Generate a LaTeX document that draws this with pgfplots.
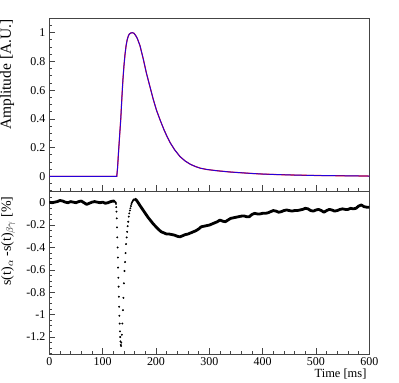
\documentclass[border=0pt]{standalone}
\usepackage{fontspec}
\setmainfont{Liberation Serif}
\usepackage{pgfplots}
\pgfplotsset{compat=1.18}

\definecolor{framegray}{HTML}{444444}

\pgfplotsset{
  rootpad/.style={
    scale only axis,
    width=320bp,
    xmin=0, xmax=600,
    axis line style={draw=framegray, line width=0.8bp},
    tick style={draw=framegray, line width=0.7bp},
    tick align=inside,
    xtick pos=bottom, ytick pos=left,
    major tick length=6bp, minor tick length=3bp,
    xtick={0,100,...,600},
    minor xtick={0,20,...,600},
    /pgf/number format/assume math mode=true,
    tick label style={font=\fontsize{12}{14}\selectfont},
    yticklabel style={inner sep=0pt, xshift=-3.8bp},
    xticklabel style={inner sep=0pt, yshift=-3.5bp},
  },
}

\begin{document}
\begin{tikzpicture}
  \useasboundingbox (0,0) rectangle (399bp,383bp);

  % upper pad: pulse shapes
  \begin{axis}[
      rootpad,
      at={(49.3bp,191.7bp)}, anchor=south west,
      height=173bp,
      ymin=-0.104, ymax=1.1,
      ytick={0,0.2,0.4,0.6,0.8,1},
      minor ytick={-0.1,-0.05,...,1.1},
      xticklabels={},
      ylabel={Amplitude [A.U.]},
      ylabel style={at={(rel axis cs:-0.1197,1.013)}, anchor=base east,
        font=\fontsize{15.5}{17}\selectfont},
    ]
    \addplot[red, line width=1.1bp] coordinates {
      (0,0) (126.5,0) (128,0.06) (130,0.18) (132,0.29) (134,0.40) (136,0.54)
      (138,0.67) (140,0.77) (142,0.85) (144,0.91) (146,0.95) (148,0.975)
      (150,0.99) (153,0.998) (156,1.0) (159,0.995) (162,0.98) (165,0.96)
      (170,0.91) (176,0.82) (182,0.72) (189,0.62) (195,0.535) (201,0.46)
      (208,0.39) (215,0.325) (221,0.275) (227,0.232) (235,0.185) (245,0.138)
      (255,0.106) (265,0.083) (275,0.067) (283,0.057) (295,0.048) (310,0.041)
      (320,0.037) (340,0.030) (360,0.025) (380,0.020) (400,0.016) (430,0.012)
      (460,0.009) (500,0.006) (550,0.004) (600,0.002)
    };
    \addplot[blue!85!red, line width=0.9bp] coordinates {
      (0,0) (126.5,0) (128,0.06) (130,0.18) (132,0.29) (134,0.40) (136,0.54)
      (138,0.67) (140,0.77) (142,0.85) (144,0.91) (146,0.95) (148,0.975)
      (150,0.99) (153,0.998) (156,1.0) (159,0.995) (162,0.98) (165,0.96)
      (170,0.91) (176,0.82) (182,0.72) (189,0.62) (195,0.535) (201,0.46)
      (208,0.39) (215,0.325) (221,0.275) (227,0.232) (235,0.185) (245,0.138)
      (255,0.106) (265,0.083) (275,0.067) (283,0.057) (295,0.048) (310,0.041)
      (320,0.037) (340,0.030) (360,0.025) (380,0.020) (400,0.016) (430,0.012)
      (460,0.009) (500,0.006) (550,0.004) (600,0.002)
    };
  \end{axis}

  % lower pad: difference in percent
  \begin{axis}[
      rootpad,
      at={(49.3bp,29bp)}, anchor=south west,
      height=162.7bp,
      ymin=-1.352, ymax=0.102,
      ytick={-1.2,-1,-0.8,-0.6,-0.4,-0.2,0},
      minor ytick={-1.35,-1.3,...,0.1},
      xlabel={Time [ms]},
      xlabel style={at={(rel axis cs:1.002,-0.1475)}, anchor=base east,
        font=\fontsize{12.5}{14}\selectfont},
      ylabel={s(t)$_{\alpha}$ -s(t)$_{\beta\gamma}$ [\%]},
      ylabel style={at={(rel axis cs:-0.1197,0.99)}, anchor=base east,
        font=\fontsize{14}{16}\selectfont},
    ]
    \addplot[black, line width=2.8bp, line join=round] coordinates {
      (0,0.005) (5,0.0) (10,0.005) (15,0.01) (20,0.02) (25,0.015) (30,0.005)
      (35,0.0) (40,0.01) (45,0.005) (50,0.0) (55,0.01) (60,0.015) (65,0.0)
      (70,-0.015) (75,-0.005) (80,0.005) (85,0.01) (90,0.005) (95,0.0)
      (100,0.005) (105,-0.005) (110,0.0) (115,0.01) (120,0.015) (123,0.012)
    };
    \addplot[black, only marks, mark=*, mark size=0.75bp] coordinates {
      (124,0.005) (124.5,0.0) (125,-0.01) (125.5,-0.04) (126,-0.08)
      (126.5,-0.14) (127,-0.22) (127.5,-0.31) (128,-0.40) (128.5,-0.49)
      (129,-0.58) (129.5,-0.67) (130,-0.75) (130.5,-0.84) (131,-0.93)
      (131.5,-1.01) (132,-1.08) (132.5,-1.15) (133,-1.2) (133.5,-1.24)
      (134,-1.27) (134.5,-1.28) (135,-1.25) (136,-1.18) (137,-1.08)
      (138,-0.96) (139,-0.85) (140,-0.72) (141,-0.61) (142,-0.53) (143,-0.45)
      (144,-0.37) (145,-0.31) (146,-0.26) (147,-0.21) (148,-0.17) (149,-0.125)
      (150,-0.095) (151,-0.07) (152,-0.05) (153,-0.03) (154,-0.012) (155,0.0)
      (156,0.012) (157,0.02) (158,0.026) (159,0.03)
    };
    \addplot[black, line width=2.8bp, line join=round] coordinates {
      (160,0.032) (163,0.025) (166,0.005) (170,-0.025) (175,-0.06) (180,-0.095)
      (185,-0.13) (190,-0.16) (195,-0.19) (200,-0.215) (205,-0.24) (210,-0.26)
      (215,-0.27) (220,-0.28) (225,-0.28) (230,-0.285) (235,-0.29) (240,-0.3)
      (245,-0.305) (250,-0.295) (255,-0.285) (260,-0.28) (265,-0.27)
      (270,-0.26) (275,-0.25) (280,-0.235) (285,-0.215) (290,-0.21)
      (295,-0.205) (300,-0.2) (305,-0.19) (310,-0.18) (315,-0.17) (320,-0.155)
      (325,-0.165) (330,-0.17) (335,-0.155) (340,-0.14) (345,-0.135)
      (350,-0.13) (355,-0.125) (360,-0.12) (365,-0.118) (370,-0.125)
      (375,-0.125) (380,-0.105) (385,-0.095) (390,-0.1) (395,-0.1)
      (400,-0.095) (405,-0.095) (410,-0.09) (415,-0.08) (420,-0.07)
      (425,-0.075) (430,-0.085) (435,-0.08) (440,-0.07) (445,-0.065)
      (450,-0.07) (455,-0.075) (460,-0.07) (465,-0.07) (470,-0.065)
      (475,-0.06) (480,-0.05) (485,-0.055) (490,-0.07) (495,-0.075)
      (500,-0.065) (505,-0.06) (510,-0.07) (515,-0.085) (520,-0.07)
      (525,-0.06) (530,-0.065) (535,-0.075) (540,-0.07) (545,-0.06)
      (550,-0.055) (555,-0.06) (560,-0.06) (565,-0.05) (570,-0.055)
      (575,-0.05) (580,-0.03) (585,-0.02) (590,-0.035) (595,-0.04) (600,-0.04)
    };
  \end{axis}
\end{tikzpicture}
\end{document}
